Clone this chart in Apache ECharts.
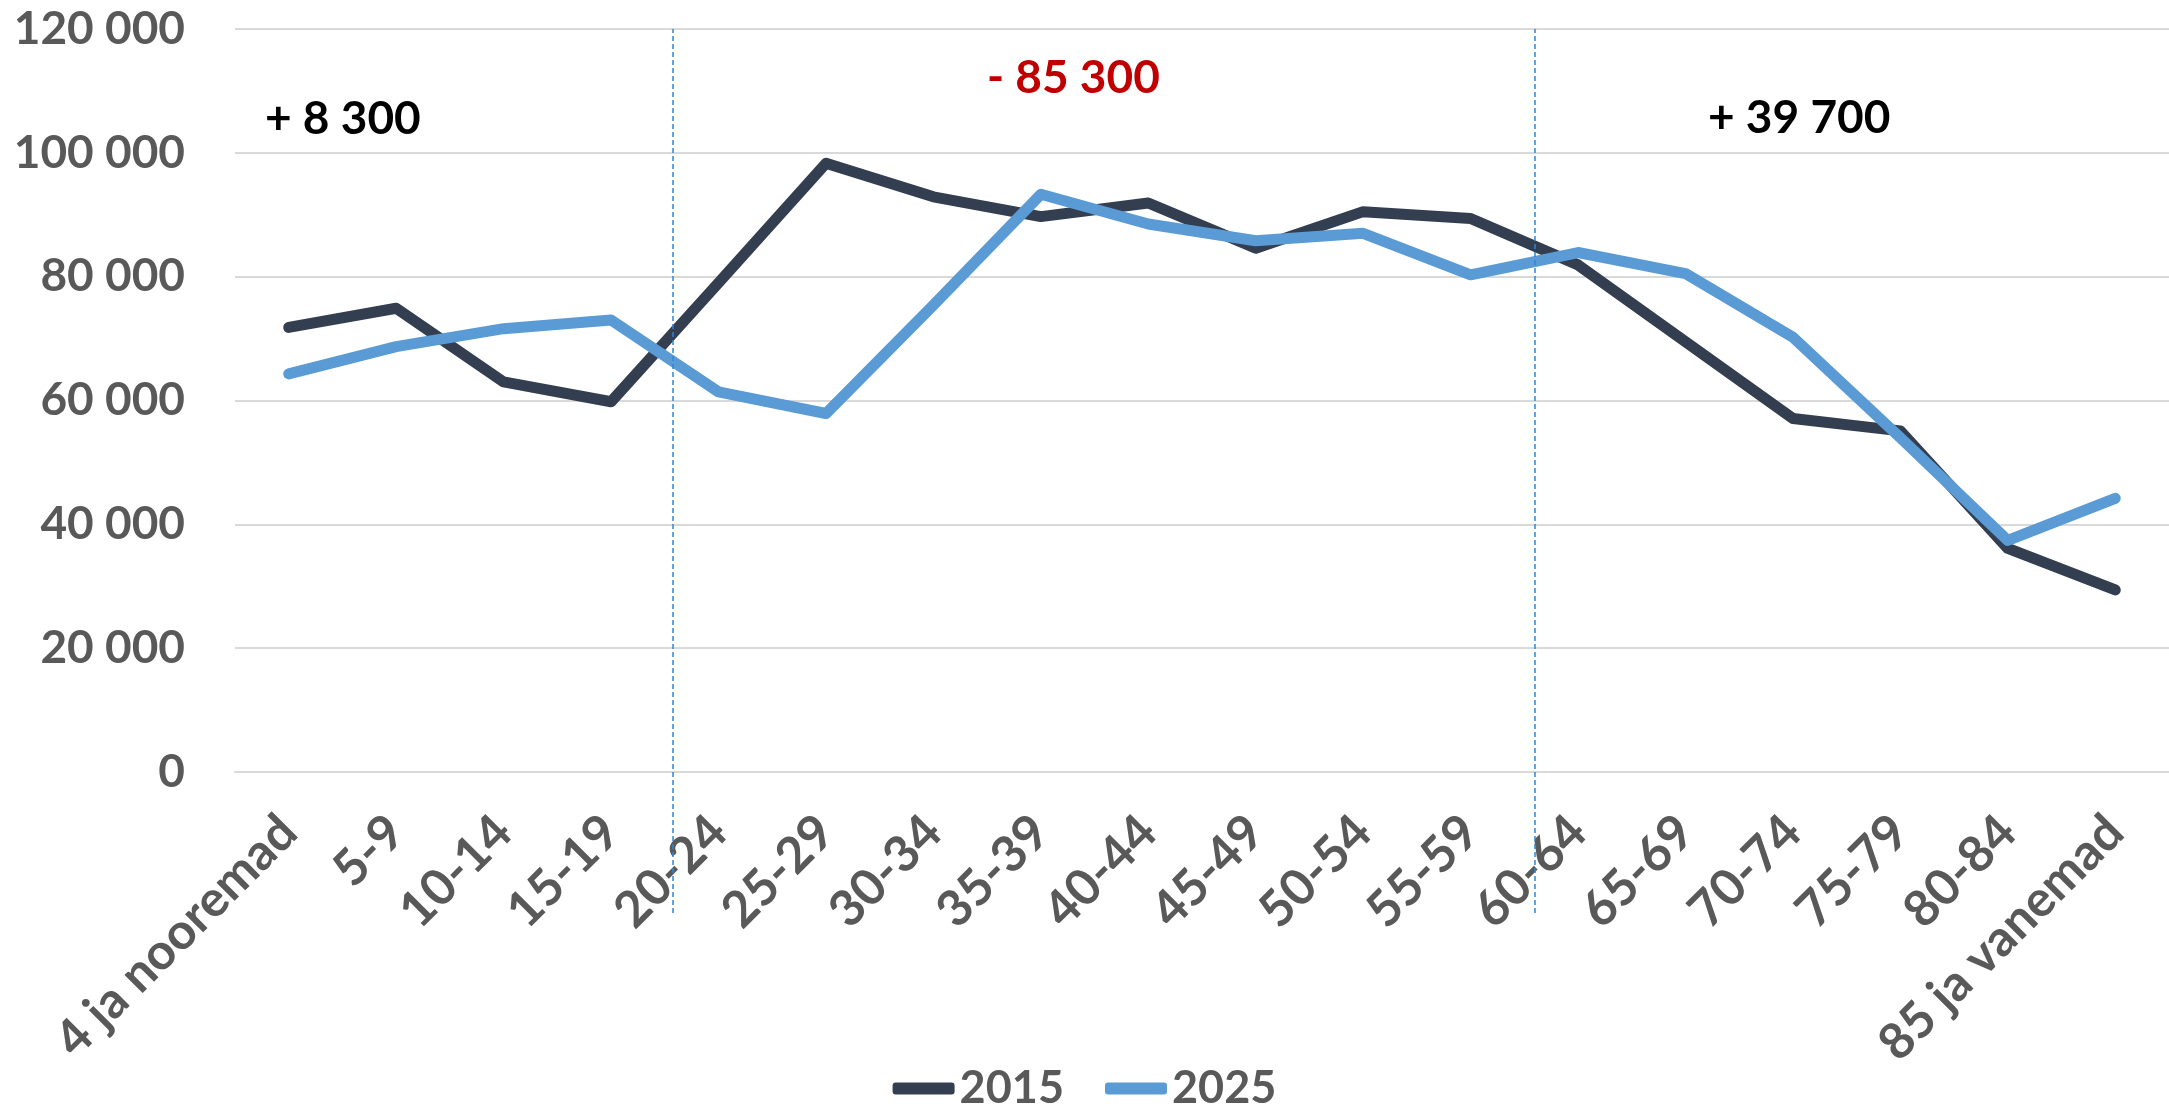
<!DOCTYPE html>
<html>
<head>
<meta charset="utf-8">
<script src="https://cdn.jsdelivr.net/npm/echarts@6/dist/echarts.min.js"></script>
<style>
html,body{margin:0;padding:0;background:#fff;}
#chart{width:2169px;height:1110px;}
</style>
</head>
<body>
<div id="chart"></div>
<script>
const categories = ['4 ja nooremad','5-9','10-14','15-19','20-24','25-29','30-34','35-39','40-44','45-49','50-54','55-59','60-64','65-69','70-74','75-79','80-84','85 ja vanemad'];
const values2015 = [71800, 74900, 63000, 59800, 79000, 98300, 92900, 89700, 91900, 84600, 90500, 89400, 81900, 69500, 57100, 55100, 36100, 29400];
const values2025 = [64300, 68700, 71600, 73000, 61400, 57900, 75400, 93300, 88500, 85800, 87000, 80300, 83900, 80500, 70200, 54000, 37400, 44200];
const seriesNames = ['2015', '2025'];
const dividerPositions = [3.57, 11.6];
const annotations = [
  {text: '+ 8 300', color: '#000000'},
  {text: '- 85 300', color: '#C00000'},
  {text: '+ 39 700', color: '#000000'}
];

const FONT = 'Lato, "Open Sans", sans-serif';
const fmt = v => String(v).replace(/\B(?=(\d{3})+(?!\d))/g, ' ');

const chart = echarts.init(document.getElementById('chart'));
chart.setOption({
  animation: false,
  backgroundColor: '#ffffff',
  grid: [
    {left: 235, right: 0, top: 29, bottom: 338},
    {left: 235, right: 0, top: 29, bottom: 197}
  ],
  legend: {
    data: seriesNames,
    top: 1061,
    left: 'center',
    itemWidth: 62,
    itemHeight: 12,
    itemGap: 41,
    icon: 'roundRect',
    textStyle: {fontFamily: FONT, fontWeight: 'bold', fontSize: 45, color: '#595959'}
  },
  xAxis: [
    {
      type: 'category',
      gridIndex: 0,
      data: categories,
      boundaryGap: true,
      axisLine: {show: true, lineStyle: {color: '#D9D9D9', width: 2}},
      axisTick: {show: false},
      axisLabel: {
        rotate: 45,
        interval: 0,
        margin: 52,
        fontFamily: FONT, fontWeight: 'bold', fontSize: 50, color: '#595959'
      }
    },
    {
      type: 'value', gridIndex: 1, min: -0.5, max: 17.5, show: false
    }
  ],
  yAxis: [
    {
      type: 'value',
      gridIndex: 0,
      min: 0, max: 120000, interval: 20000,
      axisLine: {show: false},
      axisTick: {show: false},
      splitLine: {lineStyle: {color: '#D9D9D9', width: 2}},
      axisLabel: {
        margin: 50,
        formatter: fmt,
        fontFamily: FONT, fontWeight: 'bold', fontSize: 46, color: '#595959'
      }
    },
    {
      type: 'value', gridIndex: 1, min: 0, max: 1, show: false
    }
  ],
  series: [
    {
      name: seriesNames[0], type: 'line', data: values2015,
      xAxisIndex: 0, yAxisIndex: 0,
      symbol: 'none',
      color: '#333F50',
      lineStyle: {width: 11, color: '#333F50', cap: 'round', join: 'round'},
      z: 2
    },
    {
      name: seriesNames[1], type: 'line', data: values2025,
      xAxisIndex: 0, yAxisIndex: 0,
      symbol: 'none',
      color: '#5B9BD5',
      lineStyle: {width: 11, color: '#5B9BD5', cap: 'round', join: 'round'},
      z: 3
    },
    {
      name: 'dividers', type: 'line', data: [],
      xAxisIndex: 1, yAxisIndex: 1,
      z: 5,
      markLine: {
        silent: true,
        symbol: 'none',
        label: {show: false},
        lineStyle: {color: '#2E86D6', width: 1.5, type: [5, 3]},
        data: dividerPositions.map(p => ({xAxis: p}))
      }
    }
  ],
  graphic: [
    {type: 'text', x: 265, y: 119, style: {text: annotations[0].text, font: 'bold 46px ' + FONT, fill: annotations[0].color, verticalAlign: 'middle', align: 'left'}},
    {type: 'text', x: 987, y: 78, style: {text: annotations[1].text, font: 'bold 46px ' + FONT, fill: annotations[1].color, verticalAlign: 'middle', align: 'left'}},
    {type: 'text', x: 1708, y: 118, style: {text: annotations[2].text, font: 'bold 46px ' + FONT, fill: annotations[2].color, verticalAlign: 'middle', align: 'left'}}
  ]
});
</script>
</body>
</html>
